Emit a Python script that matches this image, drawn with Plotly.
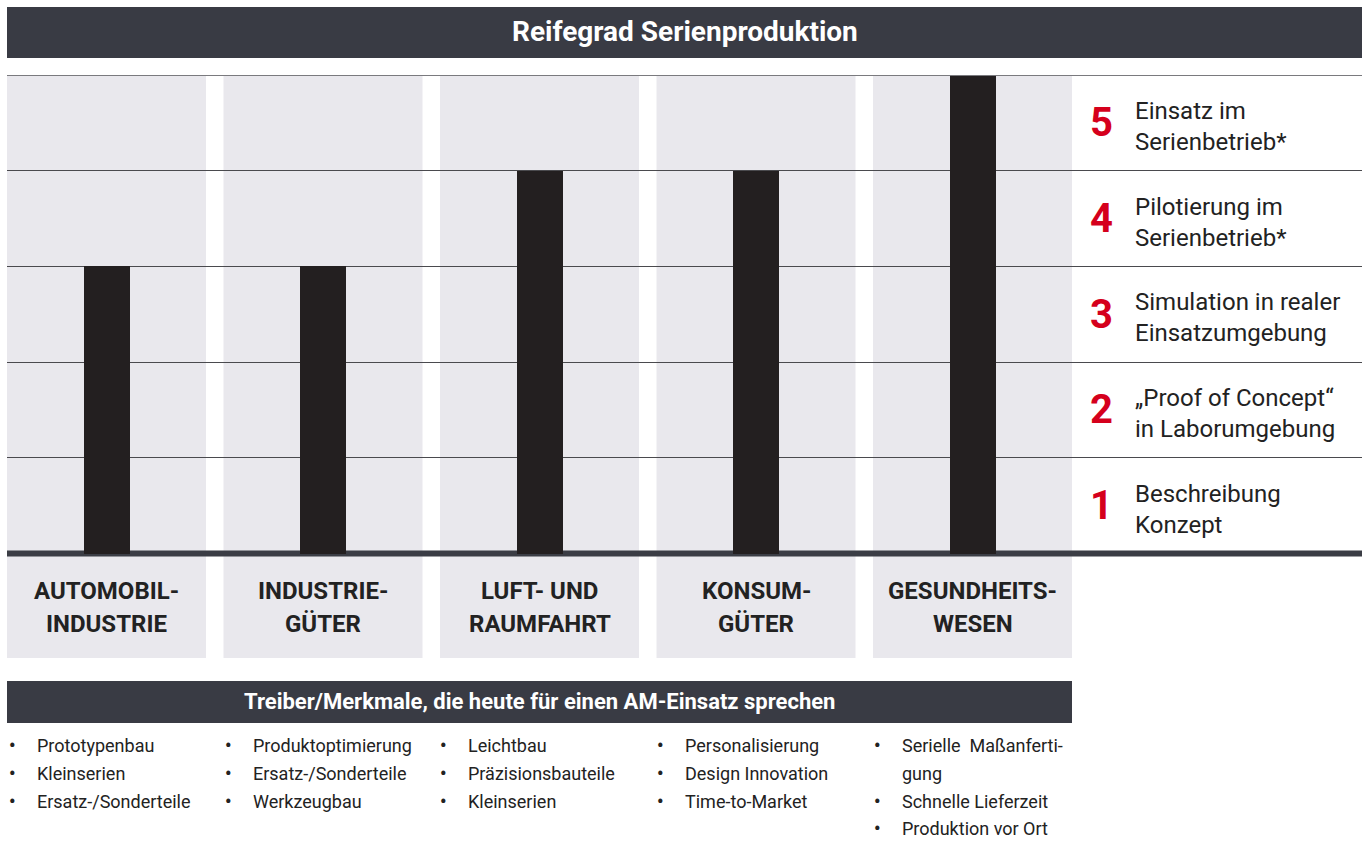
import plotly.graph_objects as go

# --- data ---------------------------------------------------------------
title = "Reifegrad Serienproduktion"
industries = [
    ["AUTOMOBIL-", "INDUSTRIE"],
    ["INDUSTRIE-", "GÜTER"],
    ["LUFT- UND", "RAUMFAHRT"],
    ["KONSUM-", "GÜTER"],
    ["GESUNDHEITS-", "WESEN"],
]
maturity = [3, 3, 4, 4, 5]

level_numbers = [5, 4, 3, 2, 1]
level_labels = [
    ["Einsatz im", "Serienbetrieb*"],
    ["Pilotierung im", "Serienbetrieb*"],
    ["Simulation in realer", "Einsatzumgebung"],
    ["„Proof of Concept“", "in Laborumgebung"],
    ["Beschreibung", "Konzept"],
]

drivers_title = "Treiber/Merkmale, die heute für einen AM-Einsatz sprechen"
drivers = [
    ["Prototypenbau", "Kleinserien", "Ersatz-/Sonderteile"],
    ["Produktoptimierung", "Ersatz-/Sonderteile", "Werkzeugbau"],
    ["Leichtbau", "Präzisionsbauteile", "Kleinserien"],
    ["Personalisierung", "Design Innovation", "Time-to-Market"],
    ["Serielle  Maßanferti-", None, "Schnelle Lieferzeit", "Produktion vor Ort"],
]

# --- styling --------------------------------------------------------------
DARK = "#393b44"
BAR = "#231f20"
COL_BG = "#e9e8ed"
RED = "#d5001c"
TXT = "#222222"
FONT = "Roboto"

W, H = 1366, 841
L, R, T, B = 7, 1362, 75, 658  # plot area in pixels
x_lo, x_hi = -0.4596, 5.799
y_lo, y_hi = -1.092, 5
unit_px = (B - T) / (y_hi - y_lo)


def px_x(px):
    return (px - L) / (R - L)


def px_y(py):
    return (B - py) / (B - T)


def data_x(px):
    return x_lo + (px - L) / (R - L) * (x_hi - x_lo)


fig = go.Figure()
fig.add_trace(go.Bar(
    x=list(range(len(maturity))),
    y=maturity,
    width=0.2125,
    marker=dict(color=BAR, line=dict(width=0)),
    hoverinfo="skip",
))

shapes = []
annotations = []


def note(text, x, y, size, color=TXT, xref="paper", yref="paper", xanchor="center"):
    annotations.append(dict(text=text, xref=xref, yref=yref, x=x, y=y,
                            xanchor=xanchor, yanchor="middle", showarrow=False,
                            font=dict(family=FONT, size=size, color=color)))


# grey column backgrounds
for i in range(len(industries)):
    shapes.append(dict(type="rect", xref="x", yref="y", x0=i - 0.4596, x1=i + 0.4596,
                       y0=y_lo, y1=y_hi, fillcolor=COL_BG, line=dict(width=0), layer="below"))
# baseline and top line
shapes.append(dict(type="line", xref="x", yref="y", x0=x_lo, x1=x_hi, y0=0, y1=0,
                   line=dict(color="#3b3d45", width=6), layer="below"))
shapes.append(dict(type="line", xref="x", yref="y", x0=x_lo, x1=x_hi, y0=y_hi, y1=y_hi,
                   line=dict(color="#7a7a7e", width=2), layer="above"))

# title bars
shapes.append(dict(type="rect", xref="paper", yref="paper", x0=0, x1=1,
                   y0=px_y(58), y1=px_y(7), fillcolor=DARK, line=dict(width=0)))
shapes.append(dict(type="rect", xref="paper", yref="paper", x0=0, x1=px_x(1072),
                   y0=px_y(723), y1=px_y(681), fillcolor=DARK, line=dict(width=0)))

note("<b>" + title + "</b>", 0.5, px_y(32), 28, color="white")
note("<b>" + drivers_title + "</b>", px_x(539.5), px_y(701), 22, color="white")

# industry labels
for i, lines in enumerate(industries):
    for j, line in enumerate(lines):
        note("<b>" + line + "</b>", i, px_y(591 + 33 * j), 24, xref="x")

# level legend on the right
for num, lines in zip(level_numbers, level_labels):
    yc = num - 0.5
    note("<b>" + str(num) + "</b>", data_x(1101), yc, 40, color=RED, xref="x", yref="y")
    for j, line in enumerate(lines):
        dy = 12 if j == 0 else -19
        note(line, data_x(1133), yc + dy / unit_px, 24, xref="x", yref="y", xanchor="left")

# driver bullet lists
col_bullets = [12, 228, 443, 660, 877]
row_y = [745, 773, 801, 828]
for c, items in enumerate(drivers):
    for r, item in enumerate(items):
        if item is None:
            continue
        note("<b>•</b>", px_x(col_bullets[c]), px_y(row_y[r]), 18)
        note(item, px_x(col_bullets[c] + 23), px_y(row_y[r]), 18, xanchor="left")
# continuation line of the justified entry
note("gung", px_x(col_bullets[4] + 23), px_y(row_y[1]), 18, xanchor="left")

fig.update_layout(
    width=W, height=H,
    margin=dict(l=L, r=W - R, t=T, b=H - B),
    paper_bgcolor="white", plot_bgcolor="white",
    showlegend=False,
    shapes=shapes, annotations=annotations,
    xaxis=dict(range=[x_lo, x_hi], visible=False, fixedrange=True),
    yaxis=dict(range=[y_lo, y_hi], tickvals=[1, 2, 3, 4], showticklabels=False,
               showgrid=True, gridcolor="#4a4a4e", gridwidth=1.3, zeroline=False,
               fixedrange=True),
    bargap=0,
)

fig.write_html("out.html", config={"displayModeBar": False},
               post_script="document.body.style.margin='0';")
